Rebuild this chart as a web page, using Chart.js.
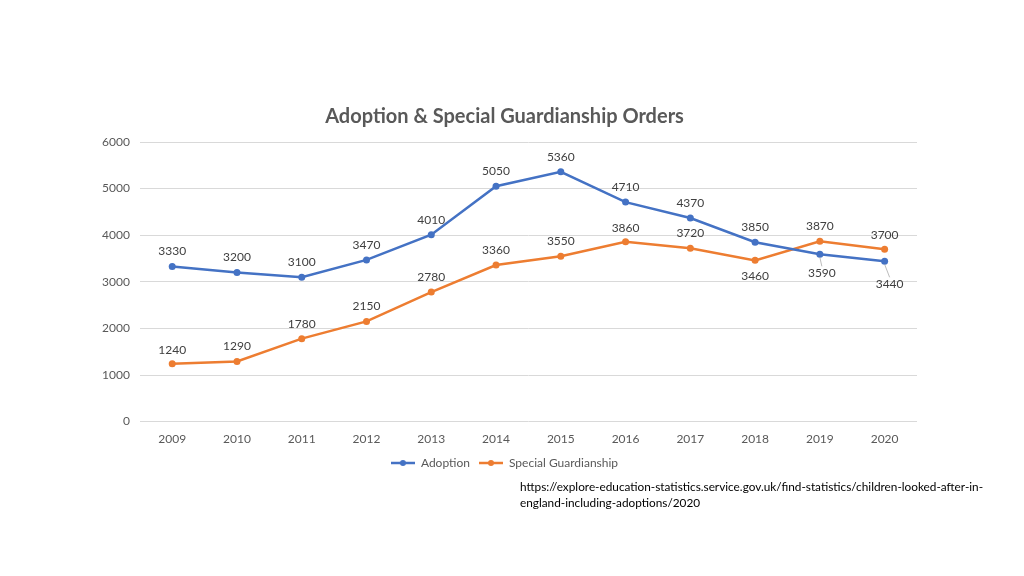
<!DOCTYPE html>
<html>
<head>
<meta charset="utf-8">
<script src="https://cdn.jsdelivr.net/npm/chart.js@4/dist/chart.umd.min.js"></script>
<style>
  html, body { margin: 0; padding: 0; background: #fff; }
  #wrap { position: relative; width: 1024px; height: 576px; }
  #source {
    position: absolute; left: 520px; top: 479px; width: 490px;
    font-family: Lato, "Open Sans", sans-serif; font-size: 11.8px; line-height: 16px; color: #000;
  }
</style>
</head>
<body>
<div id="wrap">
  <canvas id="chart" width="1024" height="576"></canvas>
  <div id="source">https://explore-education-statistics.service.gov.uk/find-statistics/children-looked-after-in-<br>england-including-adoptions/2020</div>
</div>
<script>
const years = ["2009", "2010", "2011", "2012", "2013", "2014", "2015", "2016", "2017", "2018", "2019", "2020"];
const adoption = [3330, 3200, 3100, 3470, 4010, 5050, 5360, 4710, 4370, 3850, 3590, 3440];
const guardianship = [1240, 1290, 1780, 2150, 2780, 3360, 3550, 3860, 3720, 3460, 3870, 3700];
const yTicks = [0, 1000, 2000, 3000, 4000, 5000, 6000];

// label offsets from the point (dx, dy), leader line if far away
const adoptionLabelOffsets = [[0,-15],[0,-15],[0,-15],[0,-15],[0,-15],[0,-15],[0,-15],[0,-15],[0,-15],[0,-15],[2,19],[5,23]];
const sgoLabelOffsets = [[0,-14],[0,-15],[0,-15],[0,-15],[0,-15],[0,-15],[0,-15],[0,-14],[0,-15],[0,16],[0,-15],[0,-14]];

const blue = "#4472C4", orange = "#ED7D31";
const font = "Lato, 'Open Sans', sans-serif";

function legendMarker(color) {
  const c = document.createElement("canvas");
  c.width = 24; c.height = 8;
  const ctx = c.getContext("2d");
  ctx.strokeStyle = color; ctx.lineWidth = 2.5;
  ctx.beginPath(); ctx.moveTo(0, 4); ctx.lineTo(24, 4); ctx.stroke();
  ctx.fillStyle = color;
  ctx.beginPath(); ctx.arc(12, 4, 3, 0, Math.PI * 2); ctx.fill();
  return c;
}

const valueLabels = {
  id: "valueLabels",
  afterDatasetsDraw(chart) {
    const ctx = chart.ctx;
    const offsets = [adoptionLabelOffsets, sgoLabelOffsets];
    ctx.save();
    ctx.font = "12px " + font;
    ctx.fillStyle = "#404040";
    ctx.textAlign = "center";
    ctx.textBaseline = "middle";
    chart.data.datasets.forEach((ds, di) => {
      const meta = chart.getDatasetMeta(di);
      meta.data.forEach((pt, i) => {
        const [dx, dy] = offsets[di][i];
        const lx = pt.x + dx, ly = pt.y + dy;
        if (dy > 17) {
          ctx.strokeStyle = "#a6a6a6";
          ctx.lineWidth = 0.75;
          ctx.beginPath();
          ctx.moveTo(pt.x, pt.y + 3);
          ctx.lineTo(lx, ly - 7);
          ctx.stroke();
        }
        ctx.fillText(String(ds.data[i]), lx, ly);
      });
    });
    ctx.restore();
  }
};

new Chart(document.getElementById("chart").getContext("2d"), {
  type: "line",
  data: {
    labels: years,
    datasets: [
      {
        label: "Adoption",
        data: adoption,
        borderColor: blue,
        backgroundColor: blue,
        borderWidth: 2.5,
        pointRadius: 3.5,
        pointBackgroundColor: blue,
        pointBorderWidth: 0,
        tension: 0
      },
      {
        label: "Special Guardianship",
        data: guardianship,
        borderColor: orange,
        backgroundColor: orange,
        borderWidth: 2.5,
        pointRadius: 3.5,
        pointBackgroundColor: orange,
        pointBorderWidth: 0,
        tension: 0
      }
    ]
  },
  options: {
    responsive: false,
    animation: false,
    layout: { padding: { top: 105, left: 92, right: 107, bottom: 97 } },
    plugins: {
      title: {
        display: true,
        text: "Adoption & Special Guardianship Orders",
        color: "#595959",
        font: { family: font, size: 20, weight: "bold" },
        padding: { top: 0, bottom: 13 }
      },
      legend: {
        position: "bottom",
        labels: {
          color: "#595959",
          font: { family: font, size: 12 },
          usePointStyle: true,
          pointStyleWidth: 24,
          padding: 9,
          generateLabels(chart) {
            return chart.data.datasets.map((ds, i) => ({
              text: ds.label,
              fontColor: "#595959",
              pointStyle: legendMarker(ds.borderColor),
              datasetIndex: i,
              lineWidth: 0,
              hidden: false
            }));
          }
        }
      },
      tooltip: { enabled: false }
    },
    scales: {
      x: {
        offset: true,
        grid: { display: false },
        border: { display: false },
        ticks: { color: "#595959", font: { family: font, size: 12 }, padding: 2 }
      },
      y: {
        min: 0,
        max: 6000,
        afterBuildTicks(scale) { scale.ticks = yTicks.map(v => ({ value: v })); },
        grid: { color: "#d9d9d9", lineWidth: 1, drawTicks: false },
        border: { display: false },
        ticks: {
          color: "#595959",
          font: { family: font, size: 12 },
          padding: 10,
          callback: v => String(v)
        }
      }
    }
  },
  plugins: [valueLabels]
});
</script>
</body>
</html>
